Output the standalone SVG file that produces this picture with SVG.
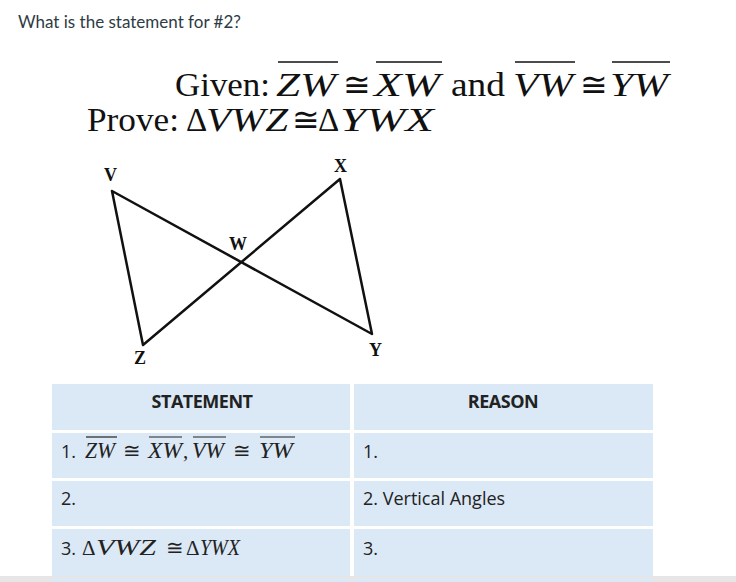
<svg xmlns="http://www.w3.org/2000/svg" width="736" height="582" viewBox="0 0 736 582">
<style>
.s{font-family:"Liberation Serif",serif;font-size:33px;fill:#111}
.i{font-style:italic}
.c{fill:#dbe8f5}
.t{font-family:"Open Sans","Liberation Sans",sans-serif;font-size:18px;fill:#222}
.m{font-family:"Liberation Serif",serif;font-size:24px;font-style:italic;fill:#222}
.n{font-family:"Liberation Serif",serif;font-size:21px;fill:#222}
.lb{font-family:"Liberation Serif",serif;font-weight:bold;font-size:18px;fill:#111}
</style>
<rect width="736" height="582" fill="#fff"/>
<text x="18" y="28" font-family="Lato,'Liberation Sans',sans-serif" font-size="17" fill="#2d3b45">What is the statement for #2?</text>
<g id="given">
<text x="175" y="96" class="s" textLength="95" lengthAdjust="spacingAndGlyphs">Given:</text>
<text x="276" y="96" class="s i" textLength="60" lengthAdjust="spacingAndGlyphs">ZW</text>
<text x="343" y="96" class="s">≅</text>
<text x="374" y="96" class="s i" textLength="66" lengthAdjust="spacingAndGlyphs">XW</text>
<text x="451" y="96" class="s" textLength="54" lengthAdjust="spacingAndGlyphs">and</text>
<text x="513" y="96" class="s i" textLength="60" lengthAdjust="spacingAndGlyphs">VW</text>
<text x="580" y="96" class="s">≅</text>
<text x="610" y="96" class="s i" textLength="58" lengthAdjust="spacingAndGlyphs">YW</text>
<g stroke="#111" stroke-width="1.5"><line x1="278" y1="62" x2="338" y2="62"/><line x1="376" y1="62" x2="442" y2="62"/><line x1="515" y1="62" x2="575" y2="62"/><line x1="612" y1="62" x2="670" y2="62"/></g>
<text x="87" y="131" class="s" textLength="92" lengthAdjust="spacingAndGlyphs">Prove:</text>
<text x="186" y="131" class="s">Δ</text>
<text x="206" y="131" class="s i" textLength="82" lengthAdjust="spacingAndGlyphs">VWZ</text>
<text x="292" y="131" class="s" font-size="30">≅</text>
<text x="318" y="131" class="s">Δ</text>
<text x="340" y="131" class="s i" textLength="94" lengthAdjust="spacingAndGlyphs">YWX</text>
</g>
<g id="figure" stroke="#111" stroke-width="2.5" fill="none" stroke-linejoin="round">
<polygon points="112,191 372,334 340,179 143,345"/>
</g>
<g id="labels">
<text x="104" y="181" class="lb">V</text>
<text x="334" y="172" class="lb">X</text>
<text x="229" y="250" class="lb">W</text>
<text x="134" y="364" class="lb">Z</text>
<text x="369" y="356" class="lb">Y</text>
</g>
<g id="table">
<rect class="c" x="52" y="384" width="298" height="46"/>
<rect class="c" x="354" y="384" width="299" height="46"/>
<rect class="c" x="52" y="433" width="298" height="45"/>
<rect class="c" x="354" y="433" width="299" height="45"/>
<rect class="c" x="52" y="481" width="298" height="45"/>
<rect class="c" x="354" y="481" width="299" height="45"/>
<rect class="c" x="52" y="529" width="298" height="47"/>
<rect class="c" x="354" y="529" width="299" height="47"/>
<rect x="0" y="576" width="736" height="6" fill="#e6e6e6"/>
<rect class="c" x="52" y="578" width="298" height="4"/>
<rect class="c" x="354" y="578" width="299" height="4"/>
<text x="202" y="408" class="t" font-weight="bold" text-anchor="middle" letter-spacing="-0.5">STATEMENT</text>
<text x="503" y="408" class="t" font-weight="bold" text-anchor="middle" letter-spacing="-0.5">REASON</text>
<text x="61" y="458" class="t">1.</text>
<text x="85" y="458" class="m" textLength="30" lengthAdjust="spacingAndGlyphs">ZW</text>
<text x="123" y="458" class="n">≅</text>
<text x="148" y="458" class="m" textLength="34" lengthAdjust="spacingAndGlyphs">XW</text>
<text x="183" y="458" class="n">,</text>
<text x="192" y="458" class="m" textLength="32" lengthAdjust="spacingAndGlyphs">VW</text>
<text x="233" y="458" class="n">≅</text>
<text x="259" y="458" class="m" textLength="34" lengthAdjust="spacingAndGlyphs">YW</text>
<g stroke="#222" stroke-width="1.2"><line x1="86" y1="437" x2="117" y2="437"/><line x1="149" y1="437" x2="182" y2="437"/><line x1="193" y1="437" x2="226" y2="437"/><line x1="260" y1="437" x2="295" y2="437"/></g>
<text x="363" y="458" class="t">1.</text>
<text x="61" y="505" class="t">2.</text>
<text x="363" y="505" class="t">2. Vertical Angles</text>
<text x="61" y="555" class="t">3.</text>
<text x="82" y="555" class="n">Δ</text>
<text x="96" y="555" class="m" textLength="60" lengthAdjust="spacingAndGlyphs">VWZ</text>
<text x="166" y="555" class="n">≅</text>
<text x="186" y="555" class="n">Δ</text>
<text x="200" y="555" class="m" textLength="40" lengthAdjust="spacingAndGlyphs">YWX</text>
<text x="363" y="555" class="t">3.</text>
</g>
</svg>
